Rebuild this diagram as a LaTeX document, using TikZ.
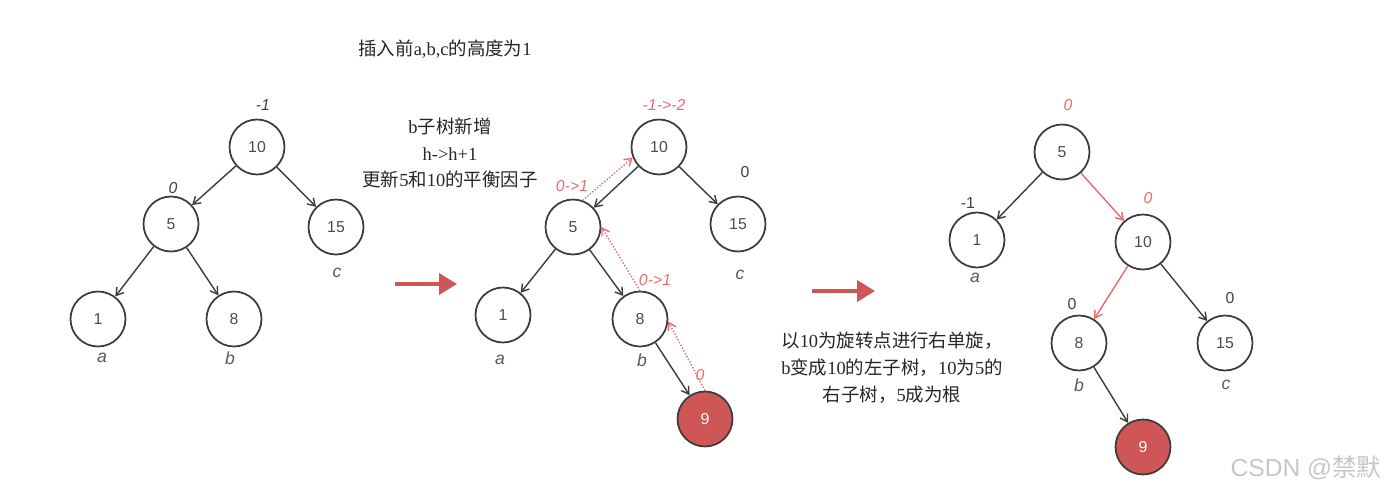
\documentclass[tikz,border=0pt]{standalone}
\usepackage{fontspec}
\setmainfont{Liberation Serif}
\setsansfont{Liberation Sans}
\newfontfamily\cjk{Noto Sans CJK SC}
\usetikzlibrary{arrows.meta}

\definecolor{avlred}{RGB}{206,86,86}
\definecolor{notered}{RGB}{232,108,108}
\definecolor{edgegray}{RGB}{60,60,60}

% Chinese text in the CJK family
\newcommand{\zh}[1]{{\cjk #1}}

\tikzset{
    avl/.style={circle, draw=edgegray, line width=1pt, minimum size=1.1cm, inner sep=0pt,
        font=\sffamily\fontsize{9}{9}\selectfont, text=black!70},
    newnode/.style={avl, fill=avlred, text=white},
    edge/.style={-{Straight Barb[length=4pt,width=5pt]}, edgegray, line width=0.8pt},
    redge/.style={edge, notered},
    trace/.style={-{Straight Barb[length=4pt,width=5pt]}, notered, densely dotted, line width=0.8pt},
    bf/.style={font=\sffamily\fontsize{9}{9}\selectfont, text=black!75},
    bfi/.style={bf, font=\sffamily\itshape\fontsize{9}{9}\selectfont},
    rbf/.style={bfi, text=notered},
    leaf/.style={font=\sffamily\itshape\fontsize{10}{10}\selectfont, text=black!65},
    note/.style={font=\fontsize{10.5}{15.3}\selectfont, align=center, text=black!85},
    bigarrow/.style={-{Triangle[length=0.36cm,width=0.42cm]}, avlred, line width=2.2pt}
}

\begin{document}
\begin{tikzpicture}[x=0.02cm, y=-0.02cm]
    \useasboundingbox (0,0) rectangle (1386,494);

    % Notes
    \node[note] (pre) at (445,49) {\zh{插入前}a,b,c\zh{的高度为}1};
    \node[note] (grow) at (450,153) {b\zh{子树新增}\\h->h+1\\\zh{更新}5\zh{和}10\zh{的平衡因子}};
    \node[note] (rot) at (892,368) {\zh{以}10\zh{为旋转点进行右单旋，}\\b\zh{变成}10\zh{的左子树，}10\zh{为}5\zh{的}\\\zh{右子树，}5\zh{成为根}};

    % Tree before insertion
    \node[avl] (a10) at (257,147) {10};
    \node[avl] (a5) at (171,224) {5};
    \node[avl] (a15) at (336,227) {15};
    \node[avl] (a1) at (98,319) {1};
    \node[avl] (a8) at (234,319) {8};
    \node[bfi] (a10bf) at (263,105) {-1};
    \node[bfi] (a5bf) at (173,188) {0};
    \node[leaf] (aa) at (102,358) {a};
    \node[leaf] (ab) at (230,358) {b};
    \node[leaf] (ac) at (337,273) {c};
    \draw[edge] (a10) -- (a5);
    \draw[edge] (a10) -- (a15);
    \draw[edge] (a5) -- (a1);
    \draw[edge] (a5) -- (a8);

    % Arrow 1
    \coordinate (s1) at (395,284);
    \coordinate (e1) at (457,284);
    \draw[bigarrow] (s1) -- (e1);

    % Tree after inserting 9
    \node[avl] (b10) at (659,147) {10};
    \node[avl] (b5) at (573,227) {5};
    \node[avl] (b15) at (738,224) {15};
    \node[avl] (b1) at (503,315) {1};
    \node[avl] (b8) at (640,319) {8};
    \node[newnode] (b9) at (705,419) {9};
    \node[rbf] (b10bf) at (664,105) {-1->-2};
    \node[bf] (b15bf) at (745,172) {0};
    \node[rbf] (b5bf) at (572,186) {0->1};
    \node[rbf] (b8bf) at (655,280) {0->1};
    \node[rbf] (b9bf) at (700,375) {0};
    \node[leaf] (ba) at (500,360) {a};
    \node[leaf] (bb) at (642,360) {b};
    \node[leaf] (bc) at (740,275) {c};
    \draw[edge] (b10) -- (b5);
    \draw[edge] (b10) -- (b15);
    \draw[edge] (b5) -- (b1);
    \draw[edge] (b5) -- (b8);
    \draw[edge] (b8) -- (b9);
    % update path of the balance factors
    \draw[trace] (b9.north) -- (b8.-5);
    \draw[trace] (b8.north) -- (b5.east);
    \draw[trace] (b5.70) -- (b10.202);

    % Arrow 2
    \coordinate (s2) at (812,291);
    \coordinate (e2) at (875,291);
    \draw[bigarrow] (s2) -- (e2);

    % Tree after right rotation
    \node[avl] (c5) at (1062,152) {5};
    \node[avl] (c1) at (977,240) {1};
    \node[avl] (c10) at (1143,242) {10};
    \node[avl] (c8) at (1079,343) {8};
    \node[avl] (c15) at (1225,343) {15};
    \node[newnode] (c9) at (1143,447) {9};
    \node[rbf] (c5bf) at (1068,105) {0};
    \node[bf] (c1bf) at (968,203) {-1};
    \node[rbf] (c10bf) at (1148,198) {0};
    \node[bf] (c8bf) at (1072,304) {0};
    \node[bf] (c15bf) at (1230,298) {0};
    \node[leaf] (ca) at (975,278) {a};
    \node[leaf] (cb) at (1079,385) {b};
    \node[leaf] (cc) at (1226,385) {c};
    \draw[edge] (c5) -- (c1);
    \draw[redge] (c5) -- (c10);
    \draw[redge] (c10) -- (c8);
    \draw[edge] (c10) -- (c15);
    \draw[edge] (c8) -- (c9);

    % Watermark
    \node[font=\sffamily\fontsize{14}{14}\selectfont, text=black!22] (mark) at (1306,468) {CSDN @\zh{禁默}};
\end{tikzpicture}
\end{document}
